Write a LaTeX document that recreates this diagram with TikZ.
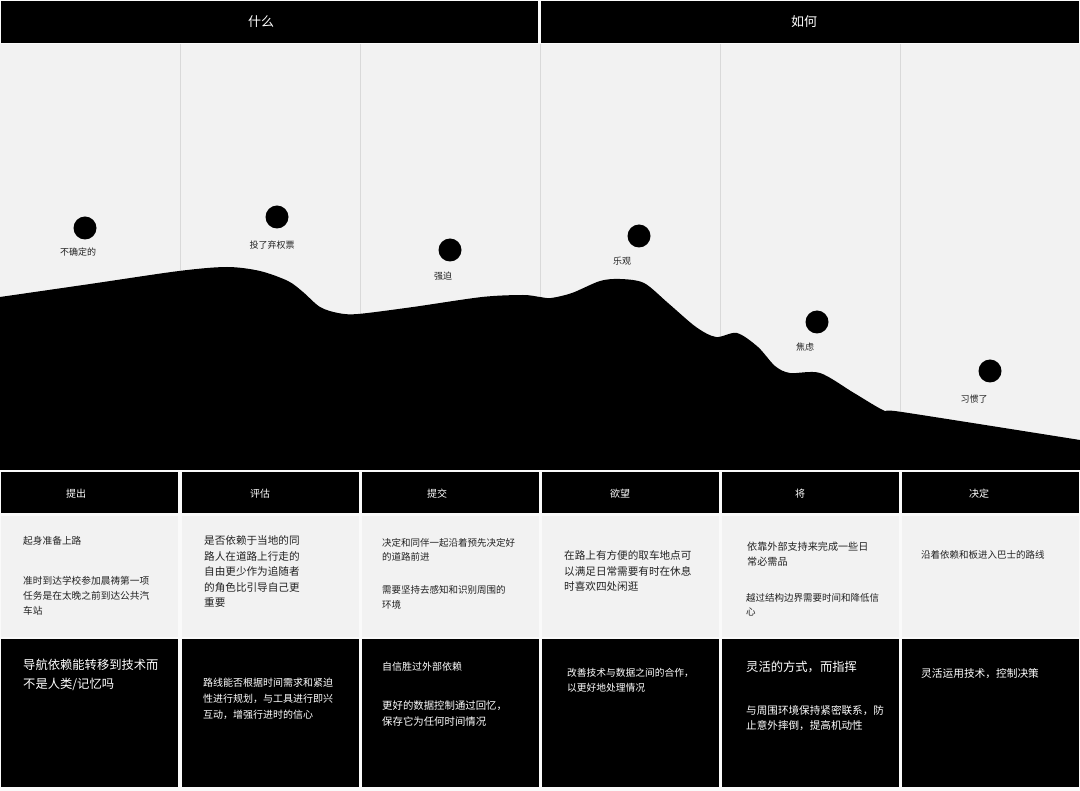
\documentclass[tikz,border=0pt]{standalone}
\usepackage{fontspec}
\setmainfont{Noto Sans CJK SC}
\definecolor{bg}{HTML}{FAFAFA}
\definecolor{panel}{HTML}{F2F2F2}
\definecolor{gridc}{HTML}{D9D9D9}
\definecolor{ink}{HTML}{222222}
\newcommand{\fs}[2]{\fontsize{#1}{#2}\selectfont}
\begin{document}
\begin{tikzpicture}[x=1pt,y=-1pt,
  txt/.style={anchor=north west,inner sep=0pt,align=left},
  gtxt/.style={txt,text=ink},
  wtxt/.style={txt,text=white},
  hdr/.style={inner sep=0pt,text=white},
  lbl/.style={inner sep=0pt,text=ink,font=\fs{9}{11}},
  dot/.style={fill=black}]
\useasboundingbox (0,0) rectangle (1080,791);
\fill[bg] (0,0) rectangle (1080,791);
% main panel
\fill[panel] (0,44) rectangle (1080,470);
\foreach \x in {180,360,540,720,900} \draw[gridc,line width=0.8pt] (\x,44) -- (\x,470);
% landscape
\fill[black] plot[smooth,tension=0.5] coordinates {(0,297) (90,284) (179,271) (227,267) (260,271) (288,281) (303,292) (320,307) (338,313) (358,314) (413,307) (482,297) (523,295) (540,297) (551,298) (572,293) (600,281) (620,279) (644,283) (668,303) (696,327) (716,337) (737,333) (758,347) (775,366) (790,373) (820,373) (854,393) (885,411) (902,412) (1080,440)} -- (1080,470) -- (0,470) -- cycle;
% top headers
\fill[black] (1,1) rectangle (538,43);
\fill[black] (541,1) rectangle (1079,43);
\node[hdr,font=\fs{13}{15}] (what) at (261,22) {什么};
\node[hdr,font=\fs{13}{15}] (how) at (804,22) {如何};
% dots
\fill[dot] (85,228) circle[radius=11.5pt] coordinate (d1);
\fill[dot] (277,217) circle[radius=11.5pt] coordinate (d2);
\fill[dot] (450,250) circle[radius=11.5pt] coordinate (d3);
\fill[dot] (639,236) circle[radius=11.5pt] coordinate (d4);
\fill[dot] (817,322) circle[radius=11.5pt] coordinate (d5);
\fill[dot] (990,371) circle[radius=11.5pt] coordinate (d6);
\node[lbl] (l1) at (78,252) {不确定的};
\node[lbl] (l2) at (272,245) {投了弃权票};
\node[lbl] (l3) at (443,276) {强迫};
\node[lbl] (l4) at (622,261) {乐观};
\node[lbl] (l5) at (805,347) {焦虑};
\node[lbl] (l6) at (974,399) {习惯了};
% table
\foreach \l/\r in {1/178,182/359,362/539,542/719,722/899,902/1079}{
  \fill[black] (\l,472) rectangle (\r,513);
  \fill[panel] (\l,516) rectangle (\r,637);
  \fill[black] (\l,639) rectangle (\r,787);
}
\node[hdr,font=\fs{10}{12}] (h1) at (76,494) {提出};
\node[hdr,font=\fs{10}{12}] (h2) at (260,494) {评估};
\node[hdr,font=\fs{10}{12}] (h3) at (437,494) {提交};
\node[hdr,font=\fs{10}{12}] (h4) at (620,494) {欲望};
\node[hdr,font=\fs{10}{12}] (h5) at (800,494) {将};
\node[hdr,font=\fs{10}{12}] (h6) at (979,494) {决定};
% grey row
\node[gtxt,font=\fs{9.7}{15}] (g1a) at (23,536) {起身准备上路};
\node[gtxt,font=\fs{9.7}{15}] (g1b) at (23,576) {准时到达学校参加晨祷第一项\\任务是在太晚之前到达公共汽\\车站};
\node[gtxt,font=\fs{10.6}{15.5}] (g2) at (204,535.7) {是否依赖于当地的同\\路人在道路上行走的\\自由更少作为追随者\\的角色比引导自己更\\重要};
\node[gtxt,font=\fs{9.5}{14.5}] (g3a) at (382,538) {决定和同伴一起沿着预先决定好\\的道路前进};
\node[gtxt,font=\fs{9.5}{15}] (g3b) at (382,585) {需要坚持去感知和识别周围的\\环境};
\node[gtxt,font=\fs{10.6}{15.5}] (g4) at (564,550.7) {在路上有方便的取车地点可\\以满足日常需要有时在休息\\时喜欢四处闲逛};
\node[gtxt,font=\fs{10.1}{15}] (g5a) at (747,542) {依靠外部支持来完成一些日\\常必需品};
\node[gtxt,font=\fs{9.5}{14.5}] (g5b) at (746,593) {越过结构边界需要时间和降低信\\心};
\node[gtxt,font=\fs{9.5}{14.5}] (g6) at (921,550) {沿着依赖和板进入巴士的路线};
% black row
\node[wtxt,font=\fs{12.3}{18.5}] (b1) at (23,659) {导航依赖能转移到技术而\\不是人类/记忆吗};
\node[wtxt,font=\fs{10}{16}] (b2) at (203,678) {路线能否根据时间需求和紧迫\\性进行规划，与工具进行即兴\\互动，增强行进时的信心};
\node[wtxt,font=\fs{10}{15}] (b3a) at (382,662) {自信胜过外部依赖};
\node[wtxt,font=\fs{10.4}{15.5}] (b3b) at (382,701) {更好的数据控制通过回忆，\\保存它为任何时间情况};
\node[wtxt,font=\fs{9.75}{15}] (b4) at (567,668) {改善技术与数据之间的合作，\\以更好地处理情况};
\node[wtxt,font=\fs{12.3}{15}] (b5a) at (746,661) {灵活的方式，而指挥};
\node[wtxt,font=\fs{10.6}{15}] (b5b) at (746,705.7) {与周围环境保持紧密联系，防\\止意外摔倒，提高机动性};
\node[wtxt,font=\fs{10.7}{15}] (b6) at (921,668.7) {灵活运用技术，控制决策};
\end{tikzpicture}
\end{document}
